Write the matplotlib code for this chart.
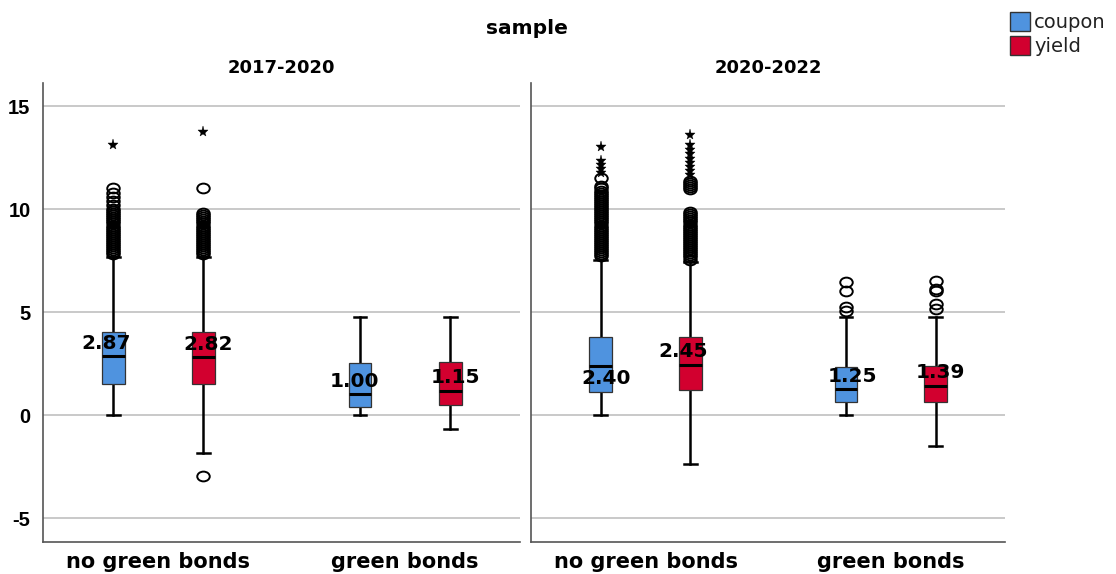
import matplotlib
matplotlib.use("Agg")
import matplotlib.pyplot as plt
from matplotlib.patches import Rectangle
from matplotlib.path import Path
from matplotlib.transforms import Affine2D

plt.rcParams['font.family'] = ['DejaVu Sans']

# ---------------- data ----------------
panels = ["2017-2020", "2020-2022"]
groups = ["no green bonds", "green bonds"]
series = ["coupon", "yield"]
colors = ["#4f93df", "#d2002f"]
yticks = [-5, 0, 5, 10, 15]

# order per panel: [coupon-no green, yield-no green, coupon-green, yield-green]
medians = [[2.87, 2.82, 1.00, 1.15], [2.40, 2.45, 1.25, 1.39]]
q1 = [[1.50, 1.50, 0.37, 0.49], [1.10, 1.21, 0.61, 0.61]]
q3 = [[4.01, 4.01, 2.51, 2.56], [3.77, 3.77, 2.31, 2.38]]
whislo = [[0.00, -1.86, 0.00, -0.68], [0.00, -2.39, 0.00, -1.50]]
whishi = [[7.69, 7.69, 4.74, 4.74], [7.52, 7.44, 4.77, 4.74]]

outliers_circle = [
    [
        [7.8, 7.9, 8.0, 8.1, 8.2, 8.3, 8.4, 8.5, 8.6, 8.7, 8.8, 8.9, 9.0, 9.1, 9.2,
         9.3, 9.4, 9.5, 9.6, 9.7, 9.8, 9.9, 10.0, 10.2, 10.4, 10.6, 10.8, 11.0],
        [7.8, 7.9, 8.0, 8.1, 8.2, 8.3, 8.4, 8.5, 8.6, 8.7, 8.8, 8.9, 9.0, 9.1, 9.2,
         9.3, 9.4, 9.5, 9.6, 9.7, 9.8, 11.0, -2.94],
        [],
        [],
    ],
    [
        [7.7, 7.8, 7.9, 8.0, 8.1, 8.2, 8.3, 8.4, 8.5, 8.6, 8.7, 8.8, 8.9, 9.0, 9.1,
         9.2, 9.3, 9.4, 9.5, 9.6, 9.7, 9.8, 9.9, 10.0, 10.1, 10.2, 10.3, 10.4, 10.5,
         10.6, 10.7, 10.8, 10.9, 11.0, 11.1, 11.5],
        [7.55, 7.65, 7.75, 7.85, 7.95, 8.05, 8.15, 8.25, 8.35, 8.45, 8.55, 8.65, 8.75,
         8.85, 8.95, 9.05, 9.15, 9.25, 9.35, 9.45, 9.55, 9.65, 9.75, 9.85,
         10.95, 11.05, 11.15, 11.25, 11.35],
        [5.06, 5.23, 6.03, 6.47],
        [5.16, 5.40, 6.03, 6.14, 6.50],
    ],
]
outliers_star = [
    [[13.1], [13.75], [], []],
    [[11.75, 11.95, 12.15, 12.35, 13.0],
     [11.65, 11.85, 12.05, 12.25, 12.45, 12.65, 12.85, 13.1, 13.6], [], []],
]

# ---------------- style / layout ----------------
W, H = 1116, 574
fig = plt.figure(figsize=(W / 100, H / 100), dpi=100)

ax_rects = [
    [43 / W, (H - 542) / H, (520 - 43) / W, (542 - 83) / H],
    [531 / W, (H - 542) / H, (1005 - 531) / W, (542 - 83) / H],
]
offset = 0.183
box_w = 0.093
cap_w = 0.052
label_dx = [[-0.028, 0.02, -0.024, 0.02], [0.024, -0.028, 0.028, 0.02]]
label_y = [[3.48, 3.43, 1.62, 1.81], [1.75, 3.07, 1.86, 2.05]]

grid_color = "#c9c9c9"
spine_color = "#555555"
ellipse = Path(Affine2D().scale(1.28, 1.0).transform(Path.unit_circle().vertices),
               Path.unit_circle().codes)

for p, title in enumerate(panels):
    ax = fig.add_axes(ax_rects[p])
    ax.set_xlim(-0.467, 1.465)
    ax.set_ylim(-6.165, 16.12)
    ax.set_yticks(yticks)
    ax.yaxis.grid(True, color=grid_color, lw=1.4, zorder=0)
    ax.set_axisbelow(True)
    for s in ["top", "right"]:
        ax.spines[s].set_visible(False)
    for s in ["left", "bottom"]:
        ax.spines[s].set_color(spine_color)
        ax.spines[s].set_linewidth(1.2)
    ax.tick_params(axis="both", length=0)
    ax.set_xticks(range(len(groups)))
    ax.set_xticklabels(groups, fontsize=15, fontweight="bold")
    ax.tick_params(axis="x", pad=7)
    if p == 0:
        ax.set_yticklabels([str(t) for t in yticks], fontsize=14.5,
                           fontweight="bold", family="Liberation Sans")
        ax.tick_params(axis="y", pad=9)
    else:
        ax.set_yticklabels([])

    stats, pos, cols = [], [], []
    k = 0
    for g in range(len(groups)):
        for s in range(len(series)):
            stats.append(dict(med=medians[p][k], q1=q1[p][k], q3=q3[p][k],
                              whislo=whislo[p][k], whishi=whishi[p][k], fliers=[]))
            pos.append(g + (-offset if s == 0 else offset))
            cols.append(colors[s])
            k += 1
    bp = ax.bxp(stats, positions=pos, widths=box_w, patch_artist=True,
                showfliers=False, manage_ticks=False,
                boxprops=dict(edgecolor="#333333", linewidth=0.9),
                whiskerprops=dict(color="black", linewidth=1.8),
                capprops=dict(color="black", linewidth=1.8),
                medianprops=dict(color="black", linewidth=2.2),
                capwidths=cap_w)
    for patch, c in zip(bp["boxes"], cols):
        patch.set_facecolor(c)
        patch.set_zorder(3)
    for key in ("whiskers", "caps"):
        for ln in bp[key]:
            ln.set_zorder(2)
    for ln in bp["medians"]:
        ln.set_zorder(4)

    for k in range(4):
        oc = outliers_circle[p][k]
        if oc:
            ax.plot([pos[k]] * len(oc), oc, linestyle="none", marker=ellipse,
                    markersize=9, markerfacecolor="none",
                    markeredgecolor="black", markeredgewidth=1.4, zorder=5)
        os_ = outliers_star[p][k]
        if os_:
            ax.plot([pos[k]] * len(os_), os_, linestyle="none", marker="*",
                    markersize=8, color="black", markeredgewidth=0.3, zorder=5)
        ax.text(pos[k] + label_dx[p][k], label_y[p][k], f"{medians[p][k]:.2f}",
                ha="center", va="center", fontsize=14.5, fontweight="bold",
                color="black", zorder=6)

    fig.text([281, 768][p] / W, 1 - 68 / H, title, ha="center", va="center",
             fontsize=13, fontweight="bold")

fig.text(527 / W, 1 - 29 / H, "sample", ha="center", va="center",
         fontsize=14.5, fontweight="bold")

# legend
for s, name in enumerate(series):
    y0 = [12, 36][s]
    fig.add_artist(Rectangle((1010 / W, 1 - (y0 + 19) / H), 20 / W, 19 / H,
                             transform=fig.transFigure, facecolor=colors[s],
                             edgecolor="#333333", linewidth=1.0))
    fig.text(1034 / W, 1 - (y0 + 10) / H, name, ha="left", va="center",
             fontsize=14, color="#222222")

fig.savefig("out.png", dpi=100)
